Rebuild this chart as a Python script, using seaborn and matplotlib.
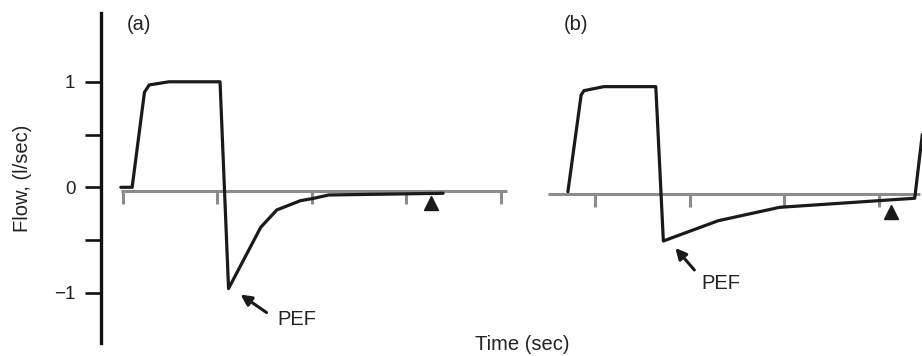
import matplotlib
matplotlib.use("Agg")
import matplotlib.pyplot as plt
from matplotlib.transforms import offset_copy
import numpy as np
import pandas as pd
import seaborn as sns

# Flow traces (l/sec) against time (sec) for two breaths
time_a = [-0.02, 0.10, 0.23, 0.28, 0.49, 1.03, 1.12, 1.46, 1.63, 1.88, 2.02, 2.18, 3.39]
flow_a = [0.0, 0.0, 0.90, 0.97, 1.0, 1.0, -0.96, -0.38, -0.215, -0.127, -0.105, -0.073, -0.057]

time_b = [0.71, 0.85, 0.88, 1.09, 1.64, 1.72, 2.30, 2.95, 4.38, 4.46]
flow_b = [-0.042, 0.875, 0.916, 0.954, 0.954, -0.509, -0.317, -0.19, -0.104, 0.50]

# Time axis drawn at the baseline of each trace
baseline_a = -0.035
baseline_b = -0.063
axis_span_a = [-0.02, 4.07]
axis_span_b = [0.50, 4.44]
ticks_a = [0, 1, 2, 3, 4]
ticks_b = [1, 2, 3, 4]

# End-of-expiration markers
marker_a = (3.26, -0.153)
marker_b = (4.13, -0.234)

flow_ticks = [-1, -0.5, 0, 0.5, 1]
flow_ticklabels = ["\u22121", "", "0", "", "1"]

sns.set_theme(style="white")
plt.rcParams["font.family"] = ["Liberation Sans", "DejaVu Sans"]

W, H = 922, 356
fig = plt.figure(figsize=(W / 100, H / 100), dpi=100)
ylim = (-1.476, 1.652)
ax_a = fig.add_axes([101 / W, 13 / H, 414 / W, 330 / H])
ax_b = fig.add_axes([520 / W, 13 / H, 402 / W, 330 / H])

line_col = "#1a1a1a"
axis_col = "#8c8c8c"

panels = [
    (ax_a, time_a, flow_a, baseline_a, axis_span_a, ticks_a, marker_a, (-0.2296, 4.151),
     (12, -6), (26, -18), (49, -31)),
    (ax_b, time_b, flow_b, baseline_b, axis_span_b, ticks_b, marker_b, (0.203, 4.457),
     (12, -7), (19, -22), (38, -43)),
]

for ax, t, f, base, span, ticks, mk, xlim, tip_off, tail_off, text_off in panels:
    ax.set_xlim(*xlim)
    ax.set_ylim(*ylim)
    ax.patch.set_alpha(0)
    # time axis with downward ticks
    ax.hlines(base, span[0], span[1], color=axis_col, lw=2.2, zorder=1)
    ax.vlines(ticks, base, base - 0.125, color=axis_col, lw=2.2, zorder=1)
    df = pd.DataFrame({"time": t, "flow": f})
    sns.lineplot(data=df, x="time", y="flow", ax=ax, color=line_col, lw=2.3,
                 estimator=None, sort=False, zorder=3)
    ax.plot([mk[0]], [mk[1]], marker="^", ms=10, color=line_col, ls="none", zorder=4)
    # peak expiratory flow annotation
    i_pef = int(np.argmin(f))
    pef = (t[i_pef], f[i_pef])
    tip_tr = offset_copy(ax.transData, fig=fig, x=tip_off[0], y=tip_off[1], units="dots")
    ax.annotate("", xy=pef, xycoords=tip_tr, xytext=tail_off, textcoords="offset pixels",
                arrowprops=dict(arrowstyle="-|>", color=line_col, lw=2.2,
                                shrinkA=0, shrinkB=0, mutation_scale=16))
    ax.annotate("PEF", xy=pef, xytext=text_off, textcoords="offset pixels",
                ha="left", va="center", fontsize=14.5, color="#222222")
    ax.set_xlabel("")
    ax.set_ylabel("")
    ax.set_xticks([])
    for s in ax.spines.values():
        s.set_visible(False)

ax_a.spines["left"].set_visible(True)
ax_a.spines["left"].set_color("#111111")
ax_a.spines["left"].set_linewidth(2.4)
ax_a.set_yticks(flow_ticks)
ax_a.set_yticklabels(flow_ticklabels, fontsize=13.5, color="#222222")
ax_a.tick_params(axis="y", direction="out", length=11.5, width=1.9, color="#111111",
                 pad=7, left=True)
ax_b.set_yticks([])

fig.text(139 / W, 1 - 25 / H, "(a)", ha="center", va="center", fontsize=14.5, color="#222222")
fig.text(576 / W, 1 - 25 / H, "(b)", ha="center", va="center", fontsize=14.5, color="#222222")
fig.text(22 / W, 1 - 178 / H, "Flow, (l/sec)", rotation=90, ha="center", va="center",
         fontsize=14.5, color="#222222")
fig.text(522 / W, 1 - 345 / H, "Time (sec)", ha="center", va="center", fontsize=14.5,
         color="#222222")

fig.savefig("out.png", dpi=100)
